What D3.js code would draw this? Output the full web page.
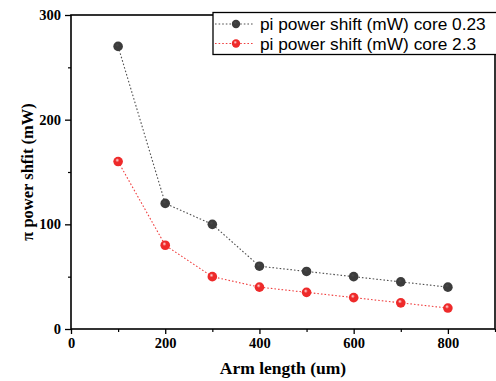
<!DOCTYPE html>
<html>
<head>
<meta charset="utf-8">
<script src="https://cdn.jsdelivr.net/npm/d3@7"></script>
<style>
  html, body { margin: 0; padding: 0; background: #fff; }
  svg { display: block; }
</style>
</head>
<body>
<svg id="chart" width="496" height="381"></svg>
<script>
// Arm length (um) and pi power shift (mW) for the two core widths
const armLengths = [100, 200, 300, 400, 500, 600, 700, 800];
const core023 = [270, 120, 100, 60, 55, 50, 45, 40];
const core23 = [160, 80, 50, 40, 35, 30, 25, 20];
const seriesNames = ["pi power shift (mW) core 0.23", "pi power shift (mW) core 2.3"];
const xTicks = [0, 200, 400, 600, 800];
const yTicks = [0, 100, 200, 300];

const svg = d3.select("#chart");
const m = { left: 71, right: 495, top: 15, bottom: 329 };

const x = d3.scaleLinear().domain([0, 900]).range([m.left, m.right]);
const y = d3.scaleLinear().domain([0, 300]).range([m.bottom, m.top]);

// Sphere-like marker fills
const defs = svg.append("defs");
function sphere(id, base, hi) {
  const g = defs.append("radialGradient").attr("id", id)
    .attr("cx", "45%").attr("cy", "40%").attr("r", "60%").attr("fx", "40%").attr("fy", "35%");
  g.append("stop").attr("offset", "0%").attr("stop-color", hi);
  g.append("stop").attr("offset", "35%").attr("stop-color", base);
  g.append("stop").attr("offset", "100%").attr("stop-color", base);
}
sphere("gDark", "#3c3c3c", "#4a4a4a");
sphere("gRed", "#ee2a2a", "#ffe0e0");

const series = [
  { name: seriesNames[0], values: core023, line: "#505050", fill: "url(#gDark)" },
  { name: seriesNames[1], values: core23, line: "#f04040", fill: "url(#gRed)" }
];

// Frame
svg.append("rect")
  .attr("x", m.left).attr("y", m.top)
  .attr("width", m.right - m.left).attr("height", m.bottom - m.top)
  .attr("fill", "none").attr("stroke", "#000").attr("stroke-width", 1.6);

const tickFont = "'Liberation Serif', 'Times New Roman', serif";

// Bottom axis: major ticks every 200, minor every 100
const xAxis = svg.append("g").attr("transform", `translate(0,${m.bottom})`)
  .call(d3.axisBottom(x).tickValues(xTicks).tickSize(5).tickPadding(4).tickFormat(d3.format("d")));
xAxis.select(".domain").remove();
xAxis.selectAll(".tick line").attr("stroke-width", 1.3);
xAxis.selectAll("text").attr("font-family", tickFont).attr("font-weight", "bold")
  .attr("font-size", 14.5).attr("fill", "#000");
svg.append("g").attr("transform", `translate(0,${m.bottom})`)
  .call(d3.axisBottom(x).tickValues([100, 300, 500, 700, 900]).tickSize(3).tickFormat(""))
  .call(g => g.select(".domain").remove())
  .selectAll(".tick line").attr("stroke-width", 1.2);

// Left axis: major every 100, minor every 50
const yAxis = svg.append("g").attr("transform", `translate(${m.left},0)`)
  .call(d3.axisLeft(y).tickValues(yTicks).tickSize(6).tickPadding(4).tickFormat(d3.format("d")));
yAxis.select(".domain").remove();
yAxis.selectAll(".tick line").attr("stroke-width", 1.3);
yAxis.selectAll("text").attr("font-family", tickFont).attr("font-weight", "bold")
  .attr("font-size", 14.5).attr("fill", "#000");
svg.append("g").attr("transform", `translate(${m.left},0)`)
  .call(d3.axisLeft(y).tickValues([50, 150, 250]).tickSize(3).tickFormat(""))
  .call(g => g.select(".domain").remove())
  .selectAll(".tick line").attr("stroke-width", 1.2);

// Axis titles
svg.append("text")
  .attr("x", (m.left + m.right) / 2).attr("y", 374)
  .attr("text-anchor", "middle")
  .attr("font-family", tickFont).attr("font-weight", "bold").attr("font-size", 17.5)
  .text("Arm length (um)");
svg.append("text")
  .attr("transform", `translate(33,${(m.top + m.bottom) / 2}) rotate(-90)`)
  .attr("text-anchor", "middle")
  .attr("font-family", tickFont).attr("font-weight", "bold").attr("font-size", 16.5)
  .text("π power shfit (mW)");

// Series lines and markers
const line = d3.line().x((d, i) => x(armLengths[i])).y(d => y(d));
series.forEach(s => {
  svg.append("path").datum(s.values)
    .attr("d", line).attr("fill", "none")
    .attr("stroke", s.line).attr("stroke-width", 1.1).attr("stroke-dasharray", "1.6,2");
  svg.append("g").selectAll("circle").data(s.values).join("circle")
    .attr("cx", (d, i) => x(armLengths[i])).attr("cy", d => y(d))
    .attr("r", 4.8).attr("fill", s.fill);
});

// Legend
const lg = svg.append("g");
lg.append("rect").attr("x", 213).attr("y", 12.5).attr("width", 290).attr("height", 42)
  .attr("fill", "#fff").attr("stroke", "#000").attr("stroke-width", 1.3);
series.forEach((s, i) => {
  const yy = 24 + i * 19.5;
  lg.append("line").attr("x1", 215).attr("x2", 253).attr("y1", yy).attr("y2", yy)
    .attr("stroke", s.line).attr("stroke-width", 1).attr("stroke-dasharray", "1.6,2");
  lg.append("circle").attr("cx", 236).attr("cy", yy).attr("r", 4.2).attr("fill", s.fill);
  lg.append("text").attr("x", 260).attr("y", yy + 6)
    .attr("font-family", "'Liberation Sans', Arial, sans-serif").attr("font-size", 17.3)
    .attr("fill", "#000").text(s.name);
});
</script>
</body>
</html>
